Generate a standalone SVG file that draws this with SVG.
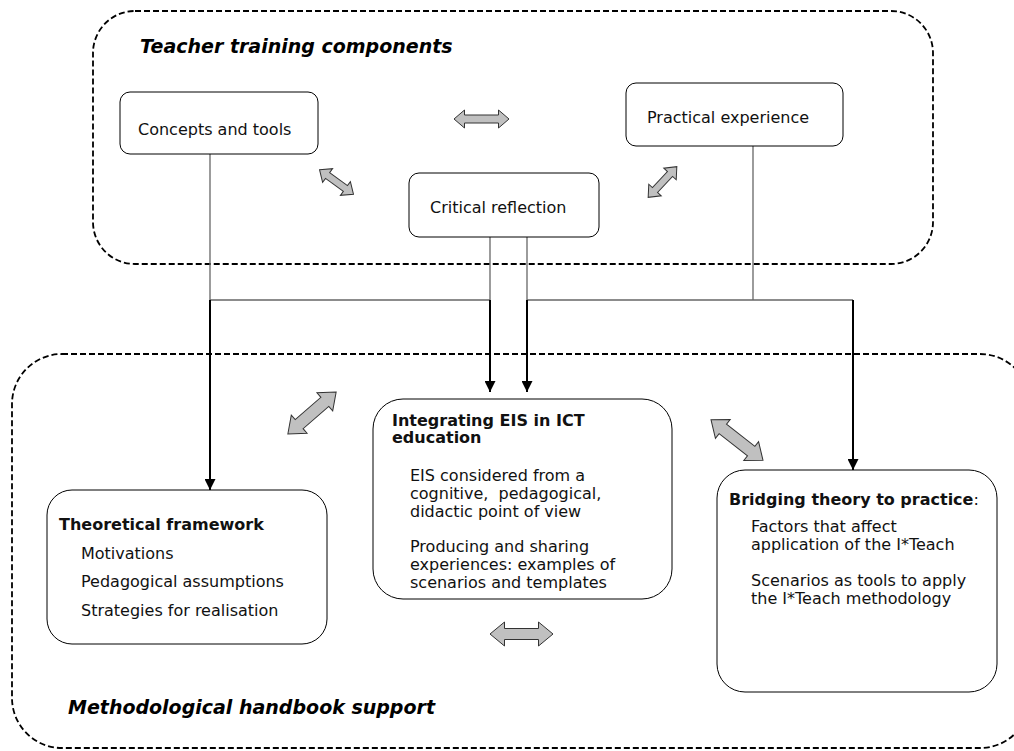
<svg xmlns="http://www.w3.org/2000/svg" width="1014" height="751" viewBox="0 0 1014 751">
<style>
  text { font-family: "DejaVu Sans", Verdana, sans-serif; fill: #111; }
  .t { font-size: 16px; }
  .b { font-size: 16px; font-weight: bold; }
  .h { font-size: 19px; font-weight: bold; font-style: italic; fill: #000; }
  .box { fill: #fff; stroke: #000; stroke-width: 1; }
  .group { fill: none; stroke: #000; stroke-width: 1.8; stroke-dasharray: 6 3; }
  .thin { stroke: #666; stroke-width: 1.3; fill: none; }
  .thick { stroke: #000; stroke-width: 2; fill: none; }
  .dbl { fill: #c0c0c0; stroke: #333; stroke-width: 1; }
</style>
<defs>
  <marker id="ah" markerUnits="userSpaceOnUse" markerWidth="11" markerHeight="11" refX="11" refY="5.5" orient="auto">
    <path d="M0,0 L11,5.5 L0,11 z" fill="#000"/>
  </marker>
</defs>

<g id="teacher-training">
  <rect class="group" x="93" y="11" width="840" height="253" rx="42"/>
  <text class="h" x="140" y="53">Teacher training components</text>
</g>
<g id="handbook-support">
  <rect class="group" x="12" y="354" width="1018" height="394" rx="50"/>
  <text class="h" x="68" y="714">Methodological handbook support</text>
</g>

<g id="connectors">
  <line class="thin" x1="210" y1="154" x2="210" y2="300"/>
  <line class="thin" x1="210" y1="300" x2="490" y2="300"/>
  <line class="thin" x1="490" y1="237" x2="490" y2="300"/>
  <line class="thin" x1="527" y1="237" x2="527" y2="300"/>
  <line class="thin" x1="527" y1="300" x2="853" y2="300"/>
  <line class="thin" x1="753" y1="146" x2="753" y2="300"/>
  <line class="thick" x1="210" y1="300" x2="210" y2="490" marker-end="url(#ah)"/>
  <line class="thick" x1="490" y1="300" x2="490" y2="392" marker-end="url(#ah)"/>
  <line class="thick" x1="527" y1="300" x2="527" y2="392" marker-end="url(#ah)"/>
  <line class="thick" x1="853" y1="300" x2="853" y2="470" marker-end="url(#ah)"/>
</g>

<g id="double-arrows">
  <polygon class="dbl" transform="translate(481.5,119)" points="-27.5,0 -17,-9 -17,-4 17,-4 17,-9 27.5,0 17,9 17,4 -17,4 -17,9"/>
  <polygon class="dbl" transform="translate(336.5,182) rotate(36)" points="-21,0 -11,-8.5 -11,-3.5 11,-3.5 11,-8.5 21,0 11,8.5 11,3.5 -11,3.5 -11,8.5"/>
  <polygon class="dbl" transform="translate(662.5,182) rotate(-47)" points="-21,0 -11,-8.5 -11,-3.5 11,-3.5 11,-8.5 21,0 11,8.5 11,3.5 -11,3.5 -11,8.5"/>
  <polygon class="dbl" transform="translate(312,413) rotate(-41)" points="-32,0 -17,-12 -17,-6 17,-6 17,-12 32,0 17,12 17,6 -17,6 -17,12"/>
  <polygon class="dbl" transform="translate(737,440) rotate(38)" points="-33,0 -18,-12 -18,-6 18,-6 18,-12 33,0 18,12 18,6 -18,6 -18,12"/>
  <polygon class="dbl" transform="translate(521.5,634)" points="-31.5,0 -17,-12 -17,-5.5 17,-5.5 17,-12 31.5,0 17,12 17,5.5 -17,5.5 -17,12"/>
</g>

<g id="concepts-and-tools">
  <rect class="box" x="120" y="92" width="198" height="62" rx="10"/>
  <text class="t" x="138" y="135">Concepts and tools</text>
</g>
<g id="practical-experience">
  <rect class="box" x="626" y="83" width="217" height="63" rx="10"/>
  <text class="t" x="647" y="123">Practical experience</text>
</g>
<g id="critical-reflection">
  <rect class="box" x="409" y="173" width="190" height="64" rx="10"/>
  <text class="t" x="430" y="213">Critical reflection</text>
</g>

<g id="theoretical-framework">
  <rect class="box" x="47" y="490" width="280" height="154" rx="25"/>
  <text class="b" x="59" y="530">Theoretical framework</text>
  <text class="t" x="81" y="559">Motivations</text>
  <text class="t" x="81" y="587">Pedagogical assumptions</text>
  <text class="t" x="81" y="616">Strategies for realisation</text>
</g>

<g id="integrating-eis">
  <rect class="box" x="373" y="399" width="299" height="200" rx="30"/>
  <text class="b" x="392" y="426">Integrating EIS in ICT</text>
  <text class="b" x="392" y="443">education</text>
  <text class="t" x="410" y="481">EIS considered from a</text>
  <text class="t" x="410" y="499" xml:space="preserve">cognitive,  pedagogical,</text>
  <text class="t" x="410" y="517">didactic point of view</text>
  <text class="t" x="410" y="552">Producing and sharing</text>
  <text class="t" x="410" y="570">experiences: examples of</text>
  <text class="t" x="410" y="588">scenarios and templates</text>
</g>

<g id="bridging-theory">
  <rect class="box" x="717" y="470" width="280" height="222" rx="28"/>
  <text x="729" y="505"><tspan class="b">Bridging theory to practice</tspan><tspan class="t">:</tspan></text>
  <text class="t" x="751" y="532">Factors that affect</text>
  <text class="t" x="751" y="550">application of the I*Teach</text>
  <text class="t" x="751" y="586">Scenarios as tools to apply</text>
  <text class="t" x="751" y="604">the I*Teach methodology</text>
</g>
</svg>
